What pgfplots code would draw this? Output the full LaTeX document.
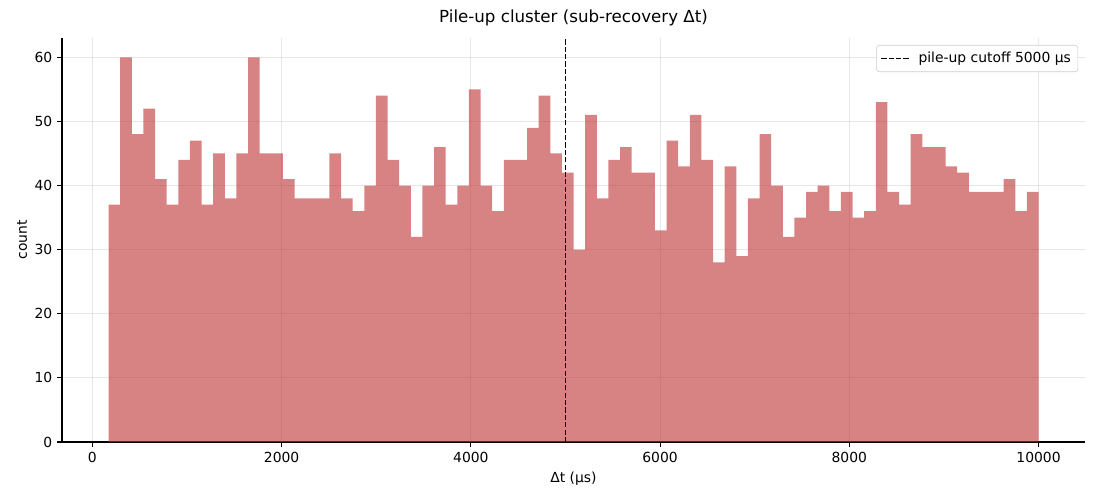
\documentclass[border=0pt]{standalone}
\usepackage{fontspec}
\setmainfont{DejaVu Sans}
\usepackage{pgfplots}
\pgfplotsset{compat=1.18}
\definecolor{barc}{RGB}{190,48,48}
\definecolor{gridc}{RGB}{176,176,176}
\definecolor{legc}{RGB}{204,204,204}
\begin{document}
\begin{tikzpicture}[font=\fontsize{10pt}{12pt}\selectfont]
\path[use as bounding box] (-44.64pt,-41.76pt) rectangle (747.36pt,318.24pt);
\begin{axis}[
  at={(0,0)}, anchor=south west,
  scale only axis, width=736.56pt, height=290.88pt,
  xmin=-321.5, xmax=10491.5, ymin=0, ymax=63,
  axis x line*=bottom, axis y line*=left,
  axis line style={black, line width=0.8pt},
  tick align=outside, major tick length=3.5pt,
  tick style={black, line width=0.8pt},
  xtick={0,2000,4000,6000,8000,10000}, ytick={0,10,20,30,40,50,60},
  scaled x ticks=false,
  /pgf/number format/1000 sep={},
  /pgf/number format/assume math mode=true,
  grid=major, major grid style={gridc, opacity=0.3, line width=0.8pt},
  title={Pile-up cluster (sub-recovery Δt)},
  title style={font=\fontsize{12pt}{14pt}\selectfont, yshift=-1pt},
  xlabel={Δt (μs)}, ylabel={count},
  ylabel style={xshift=0pt, yshift=-1.5pt},
  legend cell align=left,
  legend style={at={(1,1)}, anchor=north east, xshift=-5pt, yshift=-5pt,
    draw=legc, rounded corners=2pt, fill=white, fill opacity=0.8, text opacity=1,
    font=\fontsize{10pt}{12pt}\selectfont, inner xsep=3pt, inner ysep=3pt},
  legend image code/.code={\draw[#1] (0cm,0cm) -- (0.7cm,0cm); \path (0.85cm,0cm);},
]
\addplot[ybar interval, fill=barc, fill opacity=0.6, draw=none, forget plot] coordinates {
(170,37) (292.875,60) (415.75,48) (538.625,52) (661.5,41) (784.375,37) (907.25,44) (1030.125,47)
(1153,37) (1275.875,45) (1398.75,38) (1521.625,45) (1644.5,60) (1767.375,45) (1890.25,45) (2013.125,41)
(2136,38) (2258.875,38) (2381.75,38) (2504.625,45) (2627.5,38) (2750.375,36) (2873.25,40) (2996.125,54)
(3119,44) (3241.875,40) (3364.75,32) (3487.625,40) (3610.5,46) (3733.375,37) (3856.25,40) (3979.125,55)
(4102,40) (4224.875,36) (4347.75,44) (4470.625,44) (4593.5,49) (4716.375,54) (4839.25,45) (4962.125,42)
(5085,30) (5207.875,51) (5330.75,38) (5453.625,44) (5576.5,46) (5699.375,42) (5822.25,42) (5945.125,33)
(6068,47) (6190.875,43) (6313.75,51) (6436.625,44) (6559.5,28) (6682.375,43) (6805.25,29) (6928.125,38)
(7051,48) (7173.875,40) (7296.75,32) (7419.625,35) (7542.5,39) (7665.375,40) (7788.25,36) (7911.125,39)
(8034,35) (8156.875,36) (8279.75,53) (8402.625,39) (8525.5,37) (8648.375,48) (8771.25,46) (8894.125,46)
(9017,43) (9139.875,42) (9262.75,39) (9385.625,39) (9508.5,39) (9631.375,41) (9754.25,36) (9877.125,39)
(10000,39)
};
\addplot[black, line width=1.1pt, dash pattern=on 3.7pt off 1.6pt] coordinates {(5000,0) (5000,63)};
\addlegendentry{pile-up cutoff 5000 μs}
\end{axis}
\end{tikzpicture}
\end{document}
